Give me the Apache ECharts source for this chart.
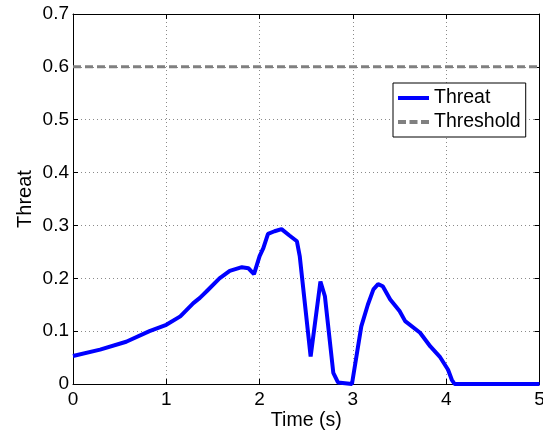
<!DOCTYPE html>
<html>
<head>
<meta charset="utf-8">
<script src="https://cdn.jsdelivr.net/npm/echarts@6/dist/echarts.min.js"></script>
<style>
html,body{margin:0;padding:0;background:#fff;}
#chart{width:543px;height:433px;}
</style>
</head>
<body>
<div id="chart"></div>
<script>
const timeValues = [0, 0.29, 0.57, 0.82, 1.0, 1.15, 1.29, 1.36, 1.43, 1.57, 1.68, 1.81, 1.88, 1.94, 2.0, 2.04, 2.09, 2.16, 2.235, 2.32, 2.40, 2.43, 2.547, 2.652, 2.70, 2.79, 2.84, 2.99, 3.09, 3.16, 3.22, 3.27, 3.32, 3.40, 3.50, 3.56, 3.72, 3.83, 3.93, 4.02, 4.06, 4.09, 5.0];
const threatValues = [0.053, 0.065, 0.080, 0.100, 0.112, 0.128, 0.153, 0.163, 0.175, 0.200, 0.214, 0.221, 0.219, 0.208, 0.242, 0.257, 0.284, 0.289, 0.293, 0.281, 0.270, 0.242, 0.052, 0.194, 0.166, 0.021, 0.003, 0.0, 0.109, 0.150, 0.179, 0.189, 0.185, 0.160, 0.138, 0.119, 0.097, 0.071, 0.052, 0.027, 0.008, 0.0, 0.0];
const thresholdTime = [0, 5];
const thresholdValues = [0.6, 0.6];
const seriesNames = ['Threat', 'Threshold'];
const xAxisName = 'Time (s)';
const yAxisName = 'Threat';

const FONT = '"Liberation Sans", Arial, sans-serif';
const chart = echarts.init(document.getElementById('chart'), null, {renderer: 'canvas'});
const threatData = timeValues.map((t, i) => [t, threatValues[i]]);
const thresholdData = thresholdTime.map((t, i) => [t, thresholdValues[i]]);

const gridLine = {show: true, lineStyle: {color: '#8a8a8a', width: 1, type: [1, 3]}};
const solidIcon = 'path://M0,0H31V4H0Z';
const dashIcon = 'path://M0,0H8V4H0Z M11.5,0H19.5V4H11.5Z M23,0H31V4H23Z';
chart.setOption({
  animation: false,
  backgroundColor: '#ffffff',
  grid: {left: 73, right: 3.5, top: 14, bottom: 49, containLabel: false, outerBoundsMode: 'none'},
  legend: {
    orient: 'vertical',
    left: 393, top: 83,
    padding: [5, 5, 5, 5],
    itemWidth: 31, itemHeight: 4, itemGap: 4,
    symbolKeepAspect: false,
    borderColor: '#000', borderWidth: 1,
    backgroundColor: '#fff',
    textStyle: {fontFamily: FONT, fontSize: 19.5, color: '#000', lineHeight: 20},
    data: [
      {name: seriesNames[0], icon: solidIcon, itemStyle: {color: '#0000ff'}},
      {name: seriesNames[1], icon: dashIcon, itemStyle: {color: '#808080'}}
    ]
  },
  xAxis: [{
    type: 'value', min: 0, max: 5, interval: 1,
    name: xAxisName, nameLocation: 'middle', nameGap: 27, nameMoveOverlap: false,
    nameTextStyle: {fontFamily: FONT, fontSize: 19.5, color: '#000'},
    axisLine: {show: true, onZero: false, lineStyle: {color: '#000', width: 1}},
    axisTick: {show: true, inside: true, length: 5, lineStyle: {color: '#000'}},
    axisLabel: {fontFamily: FONT, fontSize: 19, color: '#000', margin: 6},
    splitLine: gridLine
  }, {
    type: 'value', min: 0, max: 5, interval: 1, position: 'top',
    axisLine: {show: true, onZero: false, lineStyle: {color: '#000', width: 1}},
    axisTick: {show: true, inside: true, length: 5, lineStyle: {color: '#000'}},
    axisLabel: {show: false}, splitLine: {show: false}
  }],
  yAxis: [{
    type: 'value', min: 0, max: 0.7, interval: 0.1,
    name: yAxisName, nameLocation: 'middle', nameGap: 38, nameRotate: 90, nameMoveOverlap: false,
    nameTextStyle: {fontFamily: FONT, fontSize: 20, color: '#000'},
    axisLine: {show: true, onZero: false, lineStyle: {color: '#000', width: 1}},
    axisTick: {show: true, inside: true, length: 5, lineStyle: {color: '#000'}},
    axisLabel: {fontFamily: FONT, fontSize: 19, color: '#000', margin: 4,
      formatter: v => (Math.round(v * 10) / 10).toString()},
    splitLine: gridLine
  }, {
    type: 'value', min: 0, max: 0.7, interval: 0.1, position: 'right',
    axisLine: {show: true, onZero: false, lineStyle: {color: '#000', width: 1}},
    axisTick: {show: true, inside: true, length: 5, lineStyle: {color: '#000'}},
    axisLabel: {show: false}, splitLine: {show: false}
  }],
  series: [{
    name: seriesNames[0], type: 'line', data: threatData,
    showSymbol: false, symbol: 'none', smooth: false,
    lineStyle: {color: '#0000ff', width: 4},
    itemStyle: {color: '#0000ff'},
    z: 3
  }, {
    name: seriesNames[1], type: 'line', data: thresholdData,
    showSymbol: false, symbol: 'none',
    lineStyle: {color: '#808080', width: 3, type: [8, 4]},
    itemStyle: {color: '#808080'},
    z: 2
  }]
});
</script>
</body>
</html>
